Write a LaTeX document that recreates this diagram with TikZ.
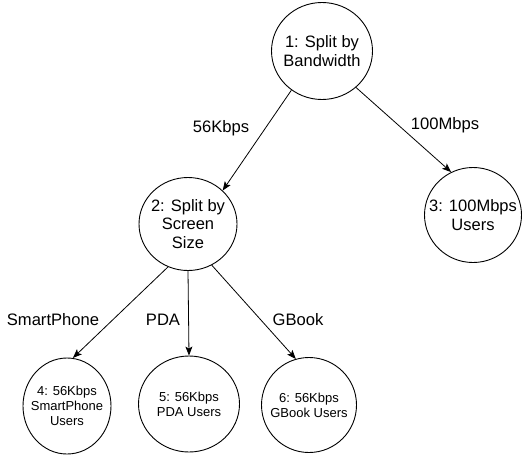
\documentclass[tikz,border=0pt]{standalone}
\usepackage{fontspec}
\setmainfont{Liberation Sans}
\usetikzlibrary{arrows.meta,shapes.geometric}
\begin{document}
\begin{tikzpicture}[x=1pt,y=-1pt,
  state/.style={draw, ellipse, inner sep=-20pt, line width=0.9pt, align=center, font=\fontsize{16.5}{18.5}\selectfont},
  leaf/.style={state, font=\fontsize{13}{15}\selectfont},
  edge/.style={draw, line width=0.8pt, -{Stealth[length=9pt,width=7pt,inset=2pt]}},
  lbl/.style={font=\fontsize{16.6}{18.5}\selectfont, inner sep=0pt}]
\useasboundingbox[fill=white] (0,0) rectangle (524,455);

\node[state, minimum width=101pt, minimum height=97pt] (n1) at (322,51) {1: Split by\\Bandwidth};
\node[state, minimum width=98pt, minimum height=93pt] (n2) at (188,224) {2: Split by\\Screen\\Size};
\node[state, minimum width=97pt, minimum height=95pt] (n3) at (473,215) {3: 100Mbps\\Users};
\node[leaf, minimum width=88pt, minimum height=96pt] (n4) at (67,406) {4: 56Kbps\\SmartPhone\\Users};
\node[leaf, minimum width=101pt, minimum height=96pt] (n5) at (189,404) {5: 56Kbps\\PDA Users};
\node[leaf, minimum width=95pt, minimum height=95pt] (n6) at (309,405) {6: 56Kbps\\GBook Users};

\draw[edge] (n1.232) -- (n2.44);
\draw[edge] (n1.313) -- (n3.117);
\draw[edge] (n2.245) -- (n4.83);
\draw[edge] (n2.south) -- (n5.north);
\draw[edge] (n2.300) -- (n6.106);

\node[lbl] (l12) at (221,128) {56Kbps};
\node[lbl] (l13) at (445,125) {100Mbps};
\node[lbl] (l24) at (53,320) {SmartPhone};
\node[lbl] (l25) at (163,320) {PDA};
\node[lbl] (l26) at (298,320) {GBook};
\end{tikzpicture}
\end{document}
